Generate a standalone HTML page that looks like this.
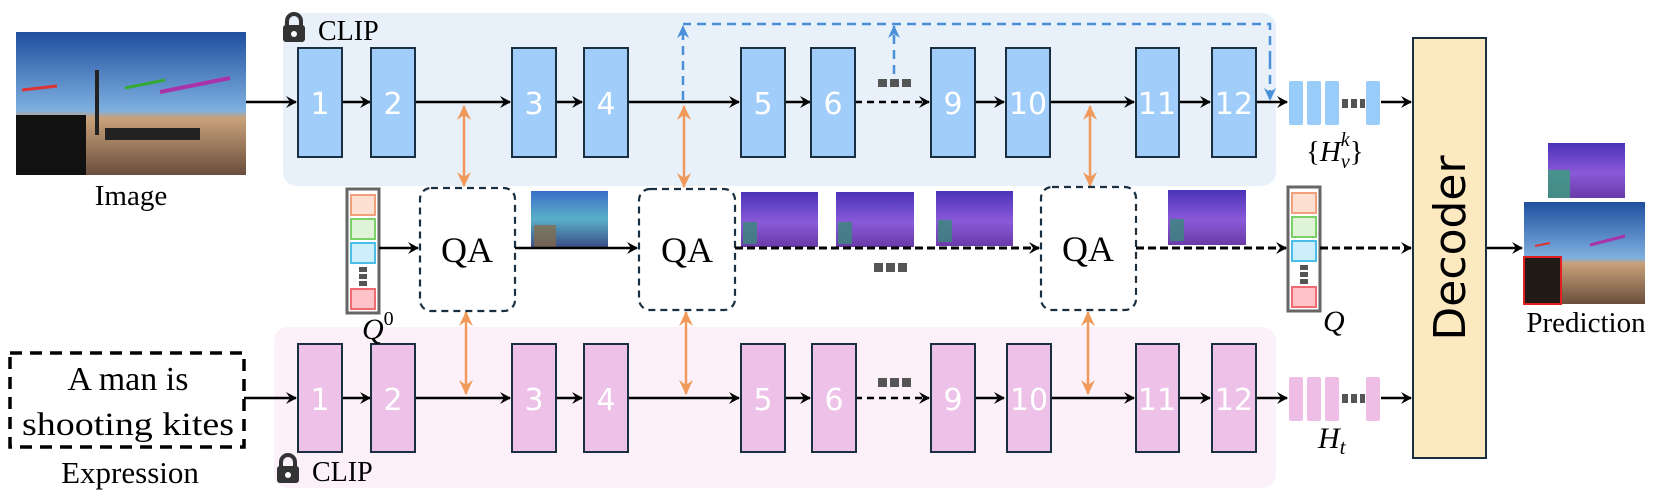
<!DOCTYPE html>
<html><head><meta charset="utf-8"><style>
html,body{margin:0;padding:0;background:#fff}
svg{display:block}
.bn{font-family:"DejaVu Sans","Liberation Sans",sans-serif;font-size:30px;fill:#fff;text-anchor:middle}
.sf{font-family:"Liberation Serif",serif;fill:#000}
</style></head><body>
<svg width="1660" height="502" viewBox="0 0 1660 502" xmlns="http://www.w3.org/2000/svg">
<defs>
<marker id="ak" markerWidth="12" markerHeight="12" refX="10" refY="6" orient="auto" markerUnits="userSpaceOnUse"><path d="M0,0 L11,6 L0,12 L4,6 Z" fill="#000"/></marker>
<marker id="ao" markerWidth="16" markerHeight="14" refX="14" refY="7" orient="auto-start-reverse" markerUnits="userSpaceOnUse"><path d="M0,0 L15,7 L0,14 L5,7 Z" fill="#f0995a"/></marker>
<marker id="ab" markerWidth="14" markerHeight="12" refX="12" refY="6" orient="auto" markerUnits="userSpaceOnUse"><path d="M0,0 L13,6 L0,12 L4,6 Z" fill="#4a90d9"/></marker>
<linearGradient id="sky" x1="0" y1="0" x2="0" y2="1"><stop offset="0" stop-color="#1f4f9e"/><stop offset="0.55" stop-color="#7fb0e0"/><stop offset="0.6" stop-color="#c9a27a"/><stop offset="1" stop-color="#6a4e3c"/></linearGradient>
<linearGradient id="heat" x1="0" y1="0" x2="0" y2="1"><stop offset="0" stop-color="#3a6fc8"/><stop offset="0.5" stop-color="#5ab0c8"/><stop offset="1" stop-color="#3a4e88"/></linearGradient>
<linearGradient id="purp" x1="0" y1="0" x2="0" y2="1"><stop offset="0" stop-color="#4a32b8"/><stop offset="0.55" stop-color="#8a5ad8"/><stop offset="1" stop-color="#6a3aa8"/></linearGradient>
</defs>

<rect x="283" y="13" width="993" height="173" rx="14" fill="#e8f0f9"/>
<rect x="274" y="327" width="1002" height="161" rx="14" fill="#fcf1f9"/>

<path d="M287,26 v-5 a7,7 0 0 1 14,0 v5" fill="none" stroke="#333" stroke-width="4"/><rect x="283" y="25" width="22" height="17" rx="3" fill="#333"/>
<circle cx="294" cy="34" r="3" fill="#fff"/>
<text x="318" y="40" class="sf" font-size="28">CLIP</text>
<path d="M281,467 v-5 a7,7 0 0 1 14,0 v5" fill="none" stroke="#333" stroke-width="4"/><rect x="277" y="466" width="22" height="17" rx="3" fill="#333"/>
<circle cx="288" cy="475" r="3" fill="#fff"/>
<text x="312" y="481" class="sf" font-size="28">CLIP</text>

<rect x="16" y="32" width="230" height="143" fill="url(#sky)"/>
<rect x="16" y="115" width="70" height="60" fill="#111"/>
<rect x="95" y="70" width="4" height="65" fill="#222"/>
<path d="M22,90 l35,-4" stroke="#d33" stroke-width="3"/><path d="M125,88 l40,-8" stroke="#3a3" stroke-width="3"/><path d="M160,92 l70,-14" stroke="#a3a" stroke-width="4"/>
<rect x="105" y="128" width="95" height="12" fill="#222"/>
<text x="131" y="205" class="sf" font-size="29" text-anchor="middle">Image</text>

<rect x="10" y="353" width="234" height="94" fill="none" stroke="#000" stroke-width="3.5" stroke-dasharray="12,8"/>
<text x="128" y="390" class="sf" font-size="34" text-anchor="middle">A man is</text>
<text x="128" y="435" class="sf" font-size="33" text-anchor="middle" textLength="212" lengthAdjust="spacingAndGlyphs">shooting kites</text>
<text x="130" y="483" class="sf" font-size="31" text-anchor="middle">Expression</text>

<g stroke="#000" stroke-width="2.5" fill="none">
<line x1="246" y1="102" x2="296" y2="102" marker-end="url(#ak)"/>
<line x1="342" y1="102" x2="370" y2="102" marker-end="url(#ak)"/>
<line x1="415" y1="102" x2="510" y2="102" marker-end="url(#ak)"/>
<line x1="556" y1="102" x2="582" y2="102" marker-end="url(#ak)"/>
<line x1="628" y1="102" x2="739" y2="102" marker-end="url(#ak)"/>
<line x1="785" y1="102" x2="810" y2="102" marker-end="url(#ak)"/>
<line x1="855" y1="102" x2="929" y2="102" stroke-dasharray="7,5" marker-end="url(#ak)"/>
<line x1="975" y1="102" x2="1004" y2="102" marker-end="url(#ak)"/>
<line x1="1050" y1="102" x2="1134" y2="102" marker-end="url(#ak)"/>
<line x1="1179" y1="102" x2="1210" y2="102" marker-end="url(#ak)"/>
<line x1="1256" y1="102" x2="1287" y2="102" marker-end="url(#ak)"/>
<line x1="1381" y1="102" x2="1411" y2="102" marker-end="url(#ak)"/>
</g>
<g fill="#a0cdfa" stroke="#1a3040" stroke-width="2">
<rect x="298" y="48" width="44" height="109"/><rect x="371" y="48" width="44" height="109"/>
<rect x="512" y="48" width="44" height="109"/><rect x="584" y="48" width="44" height="109"/>
<rect x="741" y="48" width="44" height="109"/><rect x="811" y="48" width="44" height="109"/>
<rect x="931" y="48" width="44" height="109"/><rect x="1006" y="48" width="44" height="109"/>
<rect x="1136" y="48" width="43" height="109"/><rect x="1212" y="48" width="44" height="109"/>
</g>
<g class="bn"><text x="320" y="114">1</text><text x="393" y="114">2</text><text x="534" y="114">3</text><text x="606" y="114">4</text><text x="763" y="114">5</text><text x="833" y="114">6</text><text x="953" y="114">9</text><text x="1028" y="114">10</text><text x="1157" y="114">11</text><text x="1234" y="114">12</text></g>
<g fill="#555"><rect x="878" y="79" width="9" height="8"/><rect x="890" y="79" width="9" height="8"/><rect x="902" y="79" width="9" height="8"/></g>

<g stroke="#4a90d9" stroke-width="2.5" fill="none" stroke-dasharray="9,6">
<polyline points="1270,60 1270,24 683,24"/>
<line x1="683" y1="100" x2="683" y2="26" marker-end="url(#ab)"/>
<line x1="894" y1="74" x2="894" y2="26" marker-end="url(#ab)"/>
<line x1="1270" y1="60" x2="1270" y2="100" marker-end="url(#ab)"/>
</g>

<g fill="#99ccf8"><rect x="1289" y="81" width="14" height="44" rx="2"/><rect x="1307" y="81" width="14" height="44" rx="2"/><rect x="1325" y="81" width="14" height="44" rx="2"/><rect x="1366" y="81" width="14" height="44" rx="2"/></g>
<g fill="#555"><rect x="1342" y="99" width="6" height="9"/><rect x="1351" y="99" width="6" height="9"/><rect x="1360" y="99" width="5" height="9"/></g>
<text x="1306" y="161" class="sf" font-size="29">{<tspan font-style="italic">H</tspan><tspan font-style="italic" font-size="20" dy="7">v</tspan><tspan font-style="italic" font-size="20" dx="-9" dy="-22">k</tspan><tspan dy="15">}</tspan></text>

<g stroke="#000" stroke-width="2.5" fill="none">
<line x1="244" y1="398" x2="296" y2="398" marker-end="url(#ak)"/>
<line x1="342" y1="398" x2="370" y2="398" marker-end="url(#ak)"/>
<line x1="415" y1="398" x2="510" y2="398" marker-end="url(#ak)"/>
<line x1="556" y1="398" x2="582" y2="398" marker-end="url(#ak)"/>
<line x1="628" y1="398" x2="739" y2="398" marker-end="url(#ak)"/>
<line x1="785" y1="398" x2="810" y2="398" marker-end="url(#ak)"/>
<line x1="855" y1="398" x2="929" y2="398" stroke-dasharray="7,5" marker-end="url(#ak)"/>
<line x1="975" y1="398" x2="1004" y2="398" marker-end="url(#ak)"/>
<line x1="1050" y1="398" x2="1134" y2="398" marker-end="url(#ak)"/>
<line x1="1179" y1="398" x2="1210" y2="398" marker-end="url(#ak)"/>
<line x1="1256" y1="398" x2="1287" y2="398" marker-end="url(#ak)"/>
<line x1="1381" y1="398" x2="1411" y2="398" marker-end="url(#ak)"/>
</g>
<g fill="#edc1e8" stroke="#1a3040" stroke-width="2">
<rect x="298" y="344" width="44" height="108"/><rect x="371" y="344" width="44" height="108"/>
<rect x="512" y="344" width="44" height="108"/><rect x="584" y="344" width="44" height="108"/>
<rect x="741" y="344" width="44" height="108"/><rect x="812" y="344" width="44" height="108"/>
<rect x="931" y="344" width="44" height="108"/><rect x="1007" y="344" width="44" height="108"/>
<rect x="1136" y="344" width="43" height="108"/><rect x="1212" y="344" width="44" height="108"/>
</g>
<g class="bn"><text x="320" y="410">1</text><text x="393" y="410">2</text><text x="534" y="410">3</text><text x="606" y="410">4</text><text x="763" y="410">5</text><text x="834" y="410">6</text><text x="953" y="410">9</text><text x="1029" y="410">10</text><text x="1157" y="410">11</text><text x="1234" y="410">12</text></g>
<g fill="#555"><rect x="878" y="378" width="9" height="9"/><rect x="890" y="378" width="9" height="9"/><rect x="902" y="378" width="9" height="9"/></g>
<g fill="#eebee6"><rect x="1289" y="377" width="14" height="44" rx="2"/><rect x="1307" y="377" width="14" height="44" rx="2"/><rect x="1325" y="377" width="14" height="44" rx="2"/><rect x="1366" y="377" width="14" height="44" rx="2"/></g>
<g fill="#555"><rect x="1342" y="394" width="6" height="9"/><rect x="1351" y="394" width="6" height="9"/><rect x="1360" y="394" width="5" height="9"/></g>
<text x="1318" y="448" class="sf" font-size="30" font-style="italic">H<tspan font-size="21" dy="6">t</tspan></text>

<g stroke="#f0995a" stroke-width="2.5">
<line x1="464" y1="106" x2="464" y2="186" marker-start="url(#ao)" marker-end="url(#ao)"/>
<line x1="466" y1="312" x2="466" y2="394" marker-start="url(#ao)" marker-end="url(#ao)"/>
<line x1="684" y1="106" x2="684" y2="187" marker-start="url(#ao)" marker-end="url(#ao)"/>
<line x1="686" y1="312" x2="686" y2="394" marker-start="url(#ao)" marker-end="url(#ao)"/>
<line x1="1090" y1="106" x2="1090" y2="186" marker-start="url(#ao)" marker-end="url(#ao)"/>
<line x1="1088" y1="312" x2="1088" y2="394" marker-start="url(#ao)" marker-end="url(#ao)"/>
</g>

<g id="qv">
<rect x="347" y="189" width="32" height="124" fill="#fff" stroke="#666" stroke-width="3"/>
<rect x="351" y="195" width="24" height="20" fill="#fde0d2" stroke="#f0a07a" stroke-width="2"/>
<rect x="351" y="219" width="24" height="20" fill="#dff3d6" stroke="#7cd06a" stroke-width="2"/>
<rect x="351" y="243" width="24" height="20" fill="#cdeefc" stroke="#4cbfe8" stroke-width="2"/>
<rect x="359" y="267" width="8" height="5" fill="#555"/><rect x="359" y="274" width="8" height="5" fill="#555"/><rect x="359" y="281" width="8" height="5" fill="#555"/>
<rect x="351" y="289" width="24" height="20" fill="#fdc3c8" stroke="#f06a72" stroke-width="2"/>
</g>
<use href="#qv" x="941" y="-2"/>
<text x="362" y="339" class="sf" font-size="30" font-style="italic">Q<tspan font-size="20" dy="-14" font-style="normal">0</tspan></text>
<text x="1323" y="331" class="sf" font-size="30" font-style="italic">Q</text>

<g fill="none" stroke="#1a3040" stroke-width="2.2" stroke-dasharray="7,5">
<rect x="420" y="188" width="95" height="123" rx="11"/>
<rect x="639" y="189" width="96" height="121" rx="11"/>
<rect x="1041" y="187" width="95" height="123" rx="11"/>
</g>
<g class="sf" font-size="36" text-anchor="middle"><text x="467" y="262">QA</text><text x="687" y="262">QA</text><text x="1088" y="261">QA</text></g>

<rect x="531" y="191" width="77" height="56" fill="url(#heat)"/>
<rect x="534" y="225" width="22" height="22" fill="#8a6a40" opacity="0.7"/>
<rect x="741" y="192" width="77" height="55" fill="url(#purp)"/>
<rect x="836" y="192" width="78" height="55" fill="url(#purp)"/>
<rect x="936" y="191" width="77" height="55" fill="url(#purp)"/>
<rect x="1168" y="190" width="78" height="55" fill="url(#purp)"/>
<g fill="#3a8a7a" opacity="0.8"><rect x="743" y="222" width="14" height="22"/><rect x="838" y="222" width="14" height="22"/><rect x="938" y="220" width="14" height="22"/><rect x="1170" y="219" width="14" height="22"/></g>
<g fill="#555"><rect x="874" y="263" width="9" height="9"/><rect x="886" y="263" width="9" height="9"/><rect x="898" y="263" width="9" height="9"/></g>

<g stroke="#000" stroke-width="2.5" fill="none">
<line x1="379" y1="248" x2="418" y2="248" marker-end="url(#ak)"/>
<line x1="515" y1="248" x2="637" y2="248" marker-end="url(#ak)"/>
<line x1="735" y1="248" x2="1039" y2="248" stroke-width="3" stroke-dasharray="8,4" marker-end="url(#ak)"/>
<line x1="1136" y1="248" x2="1286" y2="248" stroke-width="3" stroke-dasharray="8,4" marker-end="url(#ak)"/>
<line x1="1320" y1="248" x2="1411" y2="248" stroke-width="3" stroke-dasharray="8,4" marker-end="url(#ak)"/>
<line x1="1486" y1="248" x2="1522" y2="248" marker-end="url(#ak)"/>
</g>

<rect x="1413" y="38" width="73" height="420" fill="#fde9c0" stroke="#1a3040" stroke-width="2"/>
<text transform="translate(1465,248) rotate(-90)" font-family="DejaVu Sans, Liberation Sans, sans-serif" font-size="44" text-anchor="middle" fill="#000">Decoder</text>

<rect x="1548" y="143" width="77" height="55" fill="url(#purp)"/>
<rect x="1548" y="170" width="22" height="28" fill="#3aa07a" opacity="0.8"/>
<rect x="1524" y="202" width="121" height="102" fill="url(#sky)"/>
<rect x="1524" y="257" width="37" height="47" fill="#221a14" stroke="#e02020" stroke-width="2"/>
<path d="M1535,246 l15,-3" stroke="#d33" stroke-width="2"/><path d="M1590,245 l35,-9" stroke="#a3a" stroke-width="3"/>
<text x="1586" y="332" class="sf" font-size="29" text-anchor="middle">Prediction</text>
</svg>
</body></html>
